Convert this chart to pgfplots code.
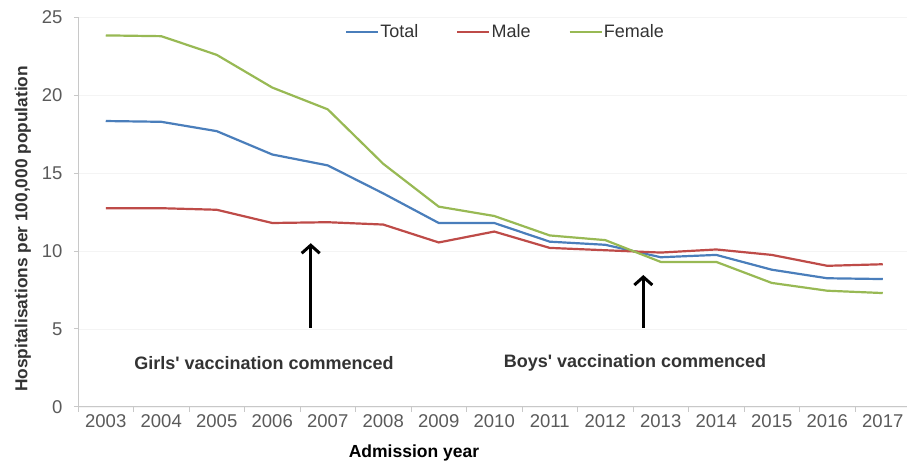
\documentclass[border=0pt]{standalone}
\usepackage{pgfplots}
\pgfplotsset{compat=1.18}
\usepackage{fontspec}
\setmainfont{Liberation Sans}
\usetikzlibrary{arrows.meta}
\definecolor{cTotal}{HTML}{4A7EBB}
\definecolor{cMale}{HTML}{BE4B48}
\definecolor{cFemale}{HTML}{98B954}
\definecolor{axisgray}{HTML}{C8C8C8}
\definecolor{tickgray}{HTML}{5A5A5A}
\definecolor{textgray}{HTML}{333333}
\begin{document}
\begin{tikzpicture}
\useasboundingbox (0,0) rectangle (907bp,466bp);
\begin{axis}[
  at={(78bp,59.3bp)}, anchor=south west,
  scale only axis, width=829bp, height=389.2bp,
  xmin=-0.5, xmax=14.437, ymin=0, ymax=25,
  axis x line*=bottom, axis y line*=left,
  axis line style={-, draw=axisgray, line width=0.8bp},
  xtick={0,1,...,14},
  xticklabels={2003,2004,2005,2006,2007,2008,2009,2010,2011,2012,2013,2014,2015,2016,2017},
  minor xtick={-0.5,0.5,...,13.5},
  major x tick style={draw=none},
  minor tick length=5bp, major tick length=4bp,
  tick align=outside,
  tick style={axisgray, line width=0.8bp},
  ytick={0,5,...,25},
  ymajorgrids, grid style={gray!9},
  ticklabel style={font=\fontsize{18.5bp}{20bp}\selectfont, text=tickgray},
  yticklabel style={xshift=-8bp},
  /pgf/number format/assume math mode=true,
  xlabel={Admission year},
  xlabel style={at={(axis cs:5.554,-2.98)}, anchor=center, font=\bfseries\fontsize{17.5bp}{19bp}\selectfont, text=black},
  ylabel={Hospitalisations per 100,000 population},
  ylabel style={at={(axis cs:-1.491,11.42)}, anchor=center, font=\bfseries\fontsize{17.3bp}{19bp}\selectfont, text=textgray},
  legend columns=3,
  legend style={at={(axis cs:4.31,24.08)}, anchor=west, draw=none, fill=none, inner sep=0pt,
    font=\fontsize{18bp}{20bp}\selectfont, text=textgray,
    nodes={inner xsep=1bp},
    /tikz/every even column/.append style={column sep=37bp}},
  legend image code/.code={\draw[#1] (0bp,0bp) -- (32bp,0bp);},
  legend cell align=left,
  clip=false,
]
\addplot[cTotal, line width=2.2bp, mark=none] coordinates {
 (0,18.35) (1,18.3) (2,17.7) (3,16.2) (4,15.5) (5,13.7) (6,11.8) (7,11.8)
 (8,10.6) (9,10.4) (10,9.6) (11,9.75) (12,8.8) (13,8.25) (14,8.2)};
\addlegendentry{Total}
\addplot[cMale, line width=2.2bp, mark=none] coordinates {
 (0,12.75) (1,12.75) (2,12.65) (3,11.8) (4,11.85) (5,11.7) (6,10.55) (7,11.25)
 (8,10.2) (9,10.05) (10,9.9) (11,10.1) (12,9.75) (13,9.05) (14,9.15)};
\addlegendentry{Male}
\addplot[cFemale, line width=2.2bp, mark=none] coordinates {
 (0,23.85) (1,23.8) (2,22.6) (3,20.5) (4,19.1) (5,15.6) (6,12.85) (7,12.25)
 (8,11.0) (9,10.7) (10,9.3) (11,9.3) (12,7.95) (13,7.45) (14,7.3)};
\addlegendentry{Female}
\draw[black, line width=3bp, -{Straight Barb[length=8bp,width=18bp,line width=3bp]}] (axis cs:3.693,5.06) -- (axis cs:3.693,10.5);
\draw[black, line width=3bp, -{Straight Barb[length=8bp,width=18bp,line width=3bp]}] (axis cs:9.686,5.06) -- (axis cs:9.686,8.46);
\node[font=\bfseries\fontsize{18bp}{20bp}\selectfont, text=textgray] at (axis cs:2.851,2.81) {Girls\textquotesingle\ vaccination commenced};
\node[font=\bfseries\fontsize{18bp}{20bp}\selectfont, text=textgray] at (axis cs:9.536,2.81) {Boys\textquotesingle\ vaccination commenced};
\end{axis}
\end{tikzpicture}
\end{document}
